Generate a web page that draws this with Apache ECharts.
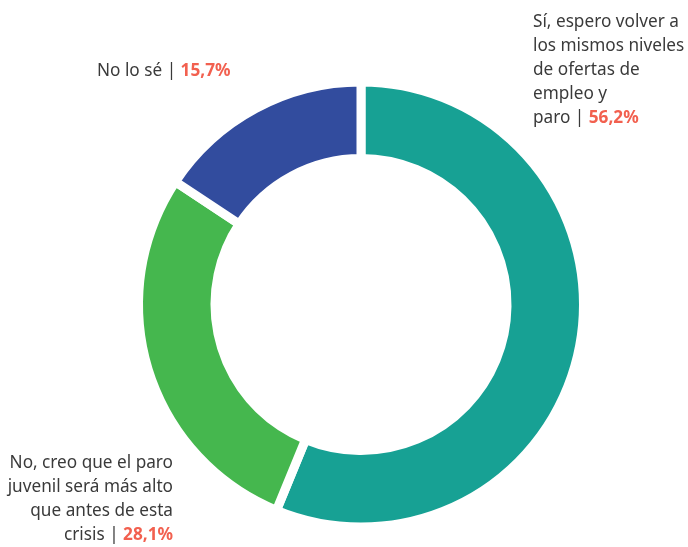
<!DOCTYPE html>
<html>
<head>
<meta charset="utf-8">
<script src="https://cdn.jsdelivr.net/npm/echarts@6/dist/echarts.min.js"></script>
<style>
  html, body { margin: 0; padding: 0; background: #fff; }
  #main { width: 688px; height: 547px; }
</style>
</head>
<body>
<div id="main"></div>
<script>
// data
var categories = [
  'Sí, espero volver a\nlos mismos niveles\nde ofertas de\nempleo y\nparo',
  'No, creo que el paro\njuvenil será más alto\nque antes de esta\ncrisis',
  'No lo sé'
];
var values = [56.2, 28.1, 15.7];
var valueLabels = ['56,2%', '28,1%', '15,7%'];

// layout of the labels (not data)
var labelPos = [
  { x: 533, y: 10, align: 'left' },
  { x: 173, y: 451, align: 'right' },
  { x: 97, y: 59, align: 'left' }
];
var colors = ['#17a194', '#45b74e', '#324c9e'];
var fontFamily = '"Noto Sans", "Open Sans", sans-serif';
var fs = 17.2;
var lh = 24;
var grey = '#3a3a3a';
var red = '#f2604f';

// measure text so the grey part and the red value can sit side by side
var measureCtx = document.createElement('canvas').getContext('2d');
function textWidth(str, weight) {
  measureCtx.font = (weight || 'normal') + ' ' + fs + 'px ' + fontFamily;
  return measureCtx.measureText(str).width;
}

function textEl(str, x, y, align, color, weight) {
  return {
    type: 'text',
    x: x,
    y: y,
    style: {
      text: str,
      align: align,
      verticalAlign: 'top',
      fontFamily: fontFamily,
      fontSize: fs,
      fontWeight: weight || 'normal',
      lineHeight: lh,
      fill: color
    }
  };
}

var labelTexts = [];
categories.forEach(function (name, i) {
  var lines = name.split('\n');
  var lp = labelPos[i];
  lines.forEach(function (l, j) {
    var y = lp.y + j * lh;
    if (j < lines.length - 1) {
      labelTexts.push(textEl(l, lp.x, y, lp.align, grey));
      return;
    }
    var head = l + ' | ';
    if (lp.align === 'left') {
      labelTexts.push(textEl(head, lp.x, y, 'left', grey));
      labelTexts.push(textEl(valueLabels[i], lp.x + textWidth(head), y, 'left', red, 'bold'));
    } else {
      labelTexts.push(textEl(valueLabels[i], lp.x, y, 'right', red, 'bold'));
      labelTexts.push(textEl(head, lp.x - textWidth(valueLabels[i], 'bold'), y, 'right', grey));
    }
  });
});

var chart = echarts.init(document.getElementById('main'));

var option = {
  animation: false,
  color: colors,
  graphic: labelTexts,
  series: [{
    type: 'pie',
    center: [361, 304.5],
    radius: [146, 222.5],
    startAngle: 90,
    clockwise: true,
    itemStyle: { borderColor: '#fff', borderWidth: 9 },
    emphasis: { disabled: true },
    label: { show: false },
    labelLine: { show: false },
    data: values.map(function (v, i) {
      return { value: v, name: categories[i] };
    })
  }]
};

chart.setOption(option);
</script>
</body>
</html>
